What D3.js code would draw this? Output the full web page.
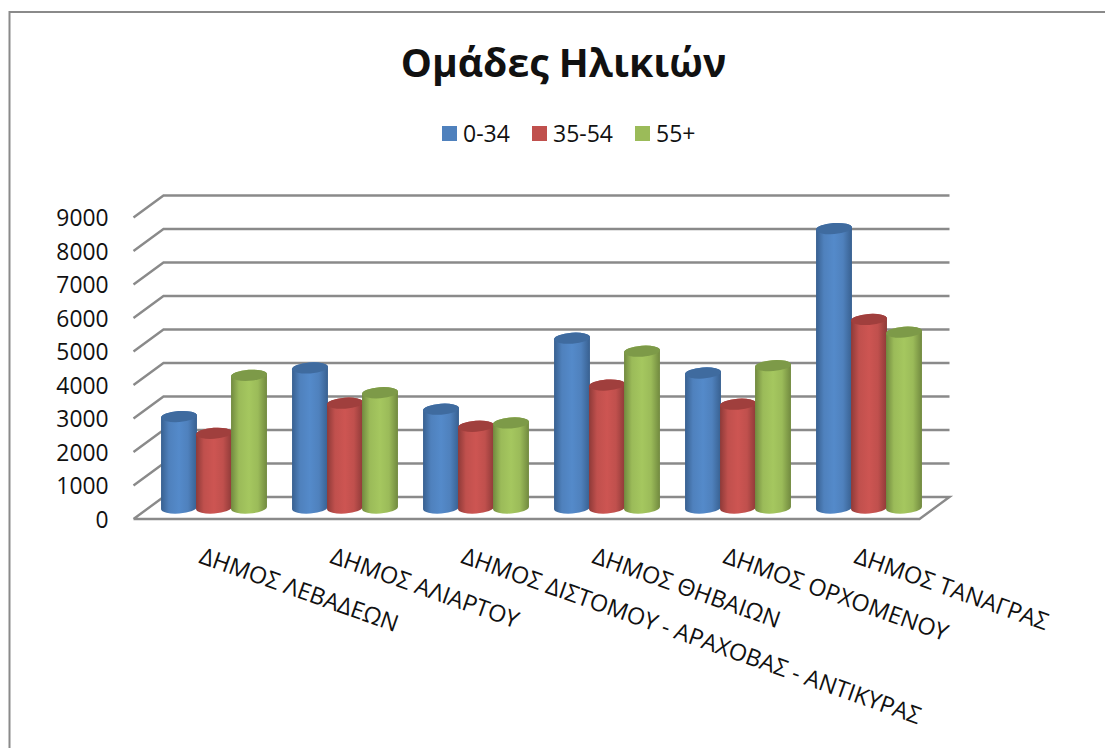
<!DOCTYPE html>
<html><head><meta charset="utf-8">
<script src="https://cdn.jsdelivr.net/npm/d3@7"></script>
<style>html,body{margin:0;padding:0;background:#fff}svg{display:block}text{font-family:"Open Sans",sans-serif;fill:#111}</style>
</head><body><svg id="c" width="1105" height="748"></svg>
<script>
const categories=["ΔΗΜΟΣ ΛΕΒΑΔΕΩΝ","ΔΗΜΟΣ ΑΛΙΑΡΤΟΥ","ΔΗΜΟΣ ΔΙΣΤΟΜΟΥ - ΑΡΑΧΟΒΑΣ - ΑΝΤΙΚΥΡΑΣ","ΔΗΜΟΣ ΘΗΒΑΙΩΝ","ΔΗΜΟΣ ΟΡΧΟΜΕΝΟΥ","ΔΗΜΟΣ ΤΑΝΑΓΡΑΣ"];
const seriesNames=["0-34","35-54","55+"];
const young=[2730,4180,2950,5070,4030,8340];
const middle=[2230,3130,2440,3670,3100,5630];
const older=[3960,3440,2540,4680,4250,5250];
const tickValues=[0,1000,2000,3000,4000,5000,6000,7000,8000,9000];
const colours=["#4F81BD","#C0504D","#9BBB59"];
const darks=["#386090","#8E3A38","#71893F"];
const tops=["#3F6B9F","#A03F3D","#7D9A48"];

const svg=d3.select("#c");
const x=d3.scaleBand().domain(categories).range([148.5,934.5]);
const y=d3.scaleLinear().domain([0,9000]).range([508,206.5]);
const sub=d3.scaleBand().domain(seriesNames).range([x.bandwidth()/2-52.5,x.bandwidth()/2+52.5]);
const dx=15,dy=11,gridC="#8a8a8a";

svg.append("path").attr("d","M9.5,748V12H1105").attr("fill","none").attr("stroke","#8a8a8a").attr("stroke-width",2);

const defs=svg.append("defs");
colours.forEach((c,i)=>{
  const g=defs.append("linearGradient").attr("id","g"+i);
  [[0,darks[i]],[.22,c],[.5,d3.color(c).brighter(.18)],[.75,c],[1,darks[i]]].forEach(s=>g.append("stop").attr("offset",s[0]).attr("stop-color",s[1]));
});

const xl=x.range()[0]-dx, xr=x.range()[1]-dx;
tickValues.forEach(v=>{
  const yy=y(v);
  svg.append("path").attr("fill","none").attr("stroke",gridC).attr("stroke-width",2.4)
    .attr("d",`M${xl},${yy+dy}L${xl+2*dx},${yy-dy}L${xr+2*dx},${yy-dy}`+(v===0?`L${xr},${yy+dy}L${xl},${yy+dy}`:""));
});

const axis=d3.axisLeft(y).tickValues(tickValues).tickSize(0).tickPadding(0).tickFormat(d3.format("d"));
const ga=svg.append("g").attr("transform","translate(108.5,11.5)").call(axis);
ga.select(".domain").remove();
ga.selectAll("text").style("font-size","22.8px").attr("dy","0.35em").attr("fill","#111");

const rx=18,ry=5.5,rot=-4;
const rad=rot*Math.PI/180,ex=rx*Math.cos(rad),ey=rx*Math.sin(rad);
[young,middle,older].forEach((vals,i)=>{
  const g=svg.append("g");
  vals.forEach((v,j)=>{
    const cx=x(categories[j])+sub(seriesNames[i])+sub.bandwidth()/2, t=y(v), b=y(0);
    g.append("path").attr("fill",`url(#g${i})`)
     .attr("d",`M${cx-ex},${t-ey}L${cx-ex},${b-ey}A${rx},${ry} ${rot} 0 0 ${cx+ex},${b+ey}L${cx+ex},${t+ey}A${rx},${ry} ${rot} 0 0 ${cx-ex},${t-ey}Z`);
    g.append("ellipse").attr("cx",0).attr("cy",0).attr("rx",rx).attr("ry",ry)
     .attr("transform",`translate(${cx},${t}) rotate(${rot})`).attr("fill",tops[i]);
  });
});

categories.forEach(c=>{
  const px=x(c)+x.bandwidth()/2-16;
  svg.append("text").attr("transform",`translate(${px},562.5) rotate(19.5)`).style("font-size","23.4px").text(c);
});

svg.append("text").attr("x",563.5).attr("y",77).attr("text-anchor","middle").style("font-size","39.2px").style("font-weight",700).text("Ομάδες Ηλικιών");

const legendX=[442,532,635];
seriesNames.forEach((s,i)=>{
  svg.append("rect").attr("x",legendX[i]).attr("y",126).attr("width",15).attr("height",15).attr("fill",colours[i]);
  svg.append("text").attr("x",legendX[i]+21).attr("y",142).style("font-size","23px").text(s);
});
</script></body></html>
